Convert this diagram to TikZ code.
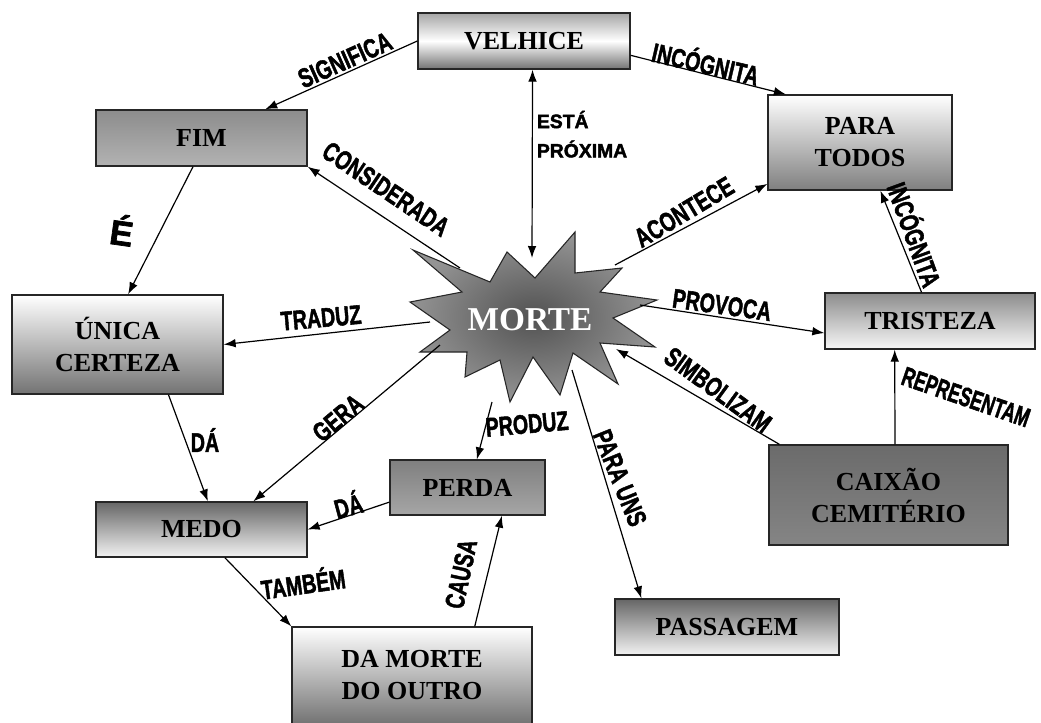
\documentclass[tikz,border=0pt]{standalone}
\usepackage{fontspec}
\usepackage{graphicx}
\setmainfont{Liberation Serif}
\newfontfamily\labfont{Liberation Sans}[BoldFeatures={FakeBold=2}]
\usetikzlibrary{calc,arrows.meta}
\tikzset{
 box/.style={draw=black!85, line width=1pt, align=center, inner sep=0pt,
   font=\fontsize{19.5}{24}\selectfont\bfseries},
 lab/.style={font=\labfont\fontsize{15.5}{16}\selectfont\bfseries, inner sep=0.5pt},
 conn/.style={line width=0.9pt, -{Latex[length=9pt,width=6.5pt]}},
}
\newcommand{\tall}[1]{\scalebox{0.95}[1.3]{#1}}
\begin{document}
\begin{tikzpicture}[x=0.75pt,y=-0.75pt]
\useasboundingbox (0,0) rectangle (1041,722);
\fill[white] (0,0) rectangle (1041,722);

% boxes
\node[box, minimum width=159pt, minimum height=42pt, top color=black!35, bottom color=black!55, middle color=white] (velhice) at (524,41) {VELHICE};
\node[box, minimum width=158.25pt, minimum height=42pt, top color=black!45, bottom color=black!30] (fim) at (201.5,138) {FIM};
\node[box, minimum width=138pt, minimum height=71.25pt, top color=white, bottom color=black!50] (paratodos) at (860,142.5) {PARA\\TODOS};
\node[box, minimum width=157.5pt, minimum height=42pt, top color=black!45, bottom color=black!3] (tristeza) at (930,321) {TRISTEZA};
\node[box, minimum width=179.25pt, minimum height=75pt, top color=black!58, bottom color=black!48] (caixao) at (888.5,495) {CAIXÃO\\CEMITÉRIO};
\node[box, minimum width=158.25pt, minimum height=74.25pt, top color=white, bottom color=black!55] (unica) at (117.5,344.5) {ÚNICA\\CERTEZA};
\node[box, minimum width=158.25pt, minimum height=41.25pt, top color=black!60, bottom color=black!5] (medo) at (201.5,529.5) {MEDO};
\node[box, minimum width=116.25pt, minimum height=41.25pt, top color=black!50, bottom color=black!35] (perda) at (467.5,487.5) {PERDA};
\node[box, minimum width=168pt, minimum height=42pt, top color=black!60, bottom color=black!5] (passagem) at (727,627) {PASSAGEM};
\node[box, minimum width=180pt, minimum height=72.75pt, top color=white, bottom color=black!55] (damorte) at (412,675.5) {DA MORTE\\DO OUTRO};

% star
\path[draw=black!85, line width=0.8pt, inner color=black!68, outer color=black!42]
 (413,250) -- (490,282) -- (507,252) -- (535,278) -- (575,232) -- (575,273)
 -- (622,268) -- (600,292) -- (657,300) -- (613,318) -- (655,347) -- (600,343)
 -- (618,384) -- (573,353) -- (560,395) -- (533,357) -- (510,402) -- (500,360)
 -- (465,377) -- (467,352) -- (420,352) -- (450,330) -- (410,302) -- (462,292) -- cycle;
\node[font=\fontsize{25}{25}\selectfont\bfseries, text=white] (morte) at (530,320) {MORTE};

% star boundary points
\coordinate (mvel) at (532,258);
\coordinate (mfim) at (460,268);
\coordinate (mpt) at (615,265);
\coordinate (mun) at (430,322);
\coordinate (mtr) at (640,305);
\coordinate (mca) at (616,349);
\coordinate (mmedo) at (440,345);
\coordinate (mperda) at (492,402);
\coordinate (mpass) at (572,370);

% connectors
\draw[conn] (velhice.west) -- ($(fim.north west)!0.8!(fim.north east)$);
\draw[conn] ($(velhice.north east)!0.75!(velhice.south east)$) -- ($(paratodos.north west)!0.1!(paratodos.north east)$);
\draw[conn, {Latex[length=9pt,width=6.5pt]}-{Latex[length=9pt,width=6.5pt]}] ($(velhice.south west)!0.54!(velhice.south east)$) -- (mvel);
\draw[conn] (mfim) -- (fim.south east);
\draw[conn] (mpt) -- ($(paratodos.north west)!0.93!(paratodos.south west)$);
\draw[conn] ($(fim.south west)!0.46!(fim.south east)$) -- ($(unica.north west)!0.55!(unica.north east)$);
\draw[conn] (mun) -- (unica.east);
\draw[conn] (mtr) -- ($(tristeza.north west)!0.71!(tristeza.south west)$);
\draw[conn] ($(tristeza.north west)!0.46!(tristeza.north east)$) -- ($(paratodos.south west)!0.61!(paratodos.south east)$);
\draw[conn] ($(caixao.north west)!0.527!(caixao.north east)$) -- ($(tristeza.south west)!0.333!(tristeza.south east)$);
\draw[conn] ($(caixao.north west)!0.046!(caixao.north east)$) -- (mca);
\draw[conn] ($(unica.south west)!0.74!(unica.south east)$) -- ($(medo.north west)!0.53!(medo.north east)$);
\draw[conn] (mmedo) -- ($(medo.north west)!0.744!(medo.north east)$);
\draw[conn] (mperda) -- ($(perda.north west)!0.56!(perda.north east)$);
\draw[conn] ($(perda.north west)!0.76!(perda.south west)$) -- (medo.east);
\draw[conn] (mpass) -- ($(passagem.north west)!0.12!(passagem.north east)$);
\draw[conn] ($(medo.south west)!0.61!(medo.south east)$) -- (damorte.north west);
\draw[conn] ($(damorte.north west)!0.76!(damorte.north east)$) -- ($(perda.south west)!0.72!(perda.south east)$);

% labels
\node[lab, rotate=24] (lsig) at (345,60) {\tall{SIGNIFICA}};
\node[lab, rotate=-13] (linc1) at (706,62) {\tall{INCÓGNITA}};
\node[lab, anchor=north west, align=left, font=\labfont\fontsize{14.5}{22}\selectfont\bfseries] (lesta) at (536,110) {ESTÁ\\PRÓXIMA};
\node[lab, rotate=-34] (lcons) at (386,189) {\tall{CONSIDERADA}};
\node[lab, rotate=31] (lacon) at (684,212) {\tall{ACONTECE}};
\node[lab, font=\labfont\fontsize{26}{26}\selectfont\bfseries, rotate=-8] (le) at (122,230) {É};
\node[lab, rotate=-70] (linc2) at (916,234) {\tall{INCÓGNITA}};
\node[lab, rotate=5] (ltrad) at (321,318) {\tall{TRADUZ}};
\node[lab, rotate=-8] (lprov) at (722,305) {\tall{PROVOCA}};
\node[lab, rotate=-36] (lsimb) at (718,390) {\tall{SIMBOLIZAM}};
\node[lab, rotate=-19] (lrep) at (966,397) {\scalebox{0.85}[1.3]{REPRESENTAM}};
\node[lab] (lda1) at (205,440) {\tall{DÁ}};
\node[lab, rotate=40] (lgera) at (338,418) {\tall{GERA}};
\node[lab, rotate=5] (lprod) at (527,424) {\tall{PRODUZ}};
\node[lab, rotate=-68] (lpara) at (620,478) {\tall{PARA UNS}};
\node[lab, rotate=15] (lda2) at (348,504) {\tall{DÁ}};
\node[lab, rotate=8] (ltamb) at (303,582) {\tall{TAMBÉM}};
\node[lab, rotate=78] (lcaus) at (461,574) {\tall{CAUSA}};
\end{tikzpicture}
\end{document}
